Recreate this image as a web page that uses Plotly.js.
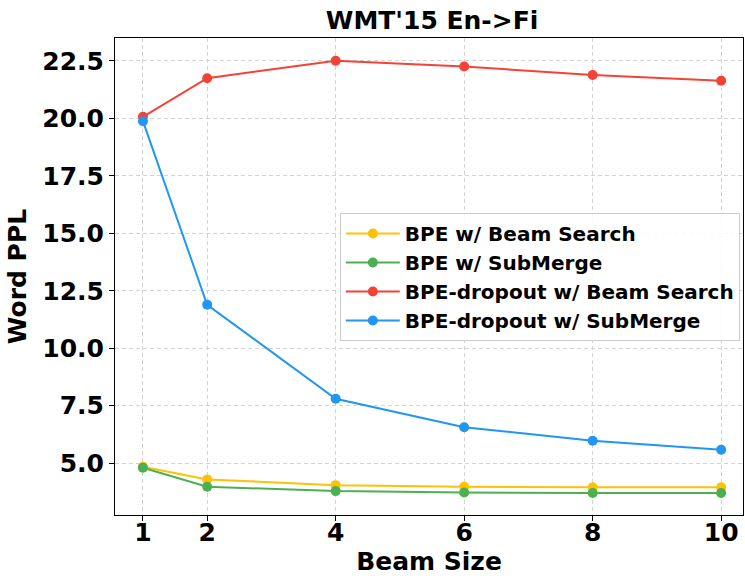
<!DOCTYPE html>
<html>
<head>
<meta charset="utf-8">
<script src="https://cdn.plot.ly/plotly-3.0.1.min.js"></script>
<style>html,body{margin:0;padding:0;background:#fff;}#chart{width:745px;height:576px;}</style>
</head>
<body>
<div id="chart"></div>
<script>
const beamSizes = [1, 2, 4, 6, 8, 10];
const bpeBeam = [4.84, 4.29, 4.04, 3.97, 3.95, 3.95];
const bpeSubMerge = [4.80, 3.97, 3.78, 3.72, 3.70, 3.70];
const dropoutBeam = [20.07, 21.75, 22.51, 22.26, 21.89, 21.64];
const dropoutSubMerge = [19.88, 11.89, 7.80, 6.56, 5.97, 5.58];
const seriesNames = ["BPE w/ Beam Search", "BPE w/ SubMerge", "BPE-dropout w/ Beam Search", "BPE-dropout w/ SubMerge"];
const colors = ["#FFC107", "#4CAF50", "#F44336", "#2196F3"];
const xTicks = [1, 2, 4, 6, 8, 10];
const yTicks = [5.0, 7.5, 10.0, 12.5, 15.0, 17.5, 20.0, 22.5];

const F = "DejaVu Sans, sans-serif";
const ys = [bpeBeam, bpeSubMerge, dropoutBeam, dropoutSubMerge];
const traces = ys.map((y, i) => ({
  x: beamSizes, y: y, name: '<b>' + seriesNames[i] + '</b>', type: 'scatter', mode: 'lines+markers',
  line: {color: colors[i], width: 2}, marker: {color: colors[i], size: 10}
}));

const layout = {
  width: 745, height: 576,
  margin: {l: 115, r: 2, t: 38, b: 61},
  paper_bgcolor: '#fff', plot_bgcolor: '#fff',
  title: {text: "<b>WMT'15 En->Fi</b>", font: {family: F, size: 25, color: '#000'}, x: 0.58, xanchor: 'center', y: 0.965, yanchor: 'middle'},
  xaxis: {
    range: [0.565, 10.34], tickvals: xTicks, ticktext: xTicks.map(v => '<b>' + v + '</b>'),
    tickfont: {family: F, size: 25, color: '#000'}, ticklabelstandoff: -10,
    title: {text: '<b>Beam Size</b>', font: {family: F, size: 25, color: '#000'}, standoff: 17},
    showline: true, linecolor: '#000', linewidth: 1, mirror: true,
    ticks: 'outside', ticklen: 5, tickcolor: '#000',
    showgrid: true, gridcolor: '#d3d3d3', griddash: '4px,3px', gridwidth: 1, zeroline: false
  },
  yaxis: {
    range: [2.74, 23.5], tickvals: yTicks, ticktext: yTicks.map(v => '<b>' + v.toFixed(1) + '</b>'),
    tickfont: {family: F, size: 25, color: '#000'},
    title: {text: '<b>Word PPL</b>', font: {family: F, size: 25, color: '#000'}, standoff: 8},
    showline: true, linecolor: '#000', linewidth: 1, mirror: true,
    ticks: 'outside', ticklen: 5, tickcolor: '#000',
    showgrid: true, gridcolor: '#d3d3d3', griddash: '4px,3px', gridwidth: 1, zeroline: false
  },
  legend: {
    x: 0.358, y: 0.633, xanchor: 'left', yanchor: 'top',
    font: {family: F, size: 20, color: '#000'},
    bgcolor: 'rgba(255,255,255,0.85)', bordercolor: '#cccccc', borderwidth: 1,
    itemwidth: 54
  },
  showlegend: true
};
Plotly.newPlot('chart', traces, layout, {displayModeBar: false, staticPlot: true});
</script>
</body>
</html>
